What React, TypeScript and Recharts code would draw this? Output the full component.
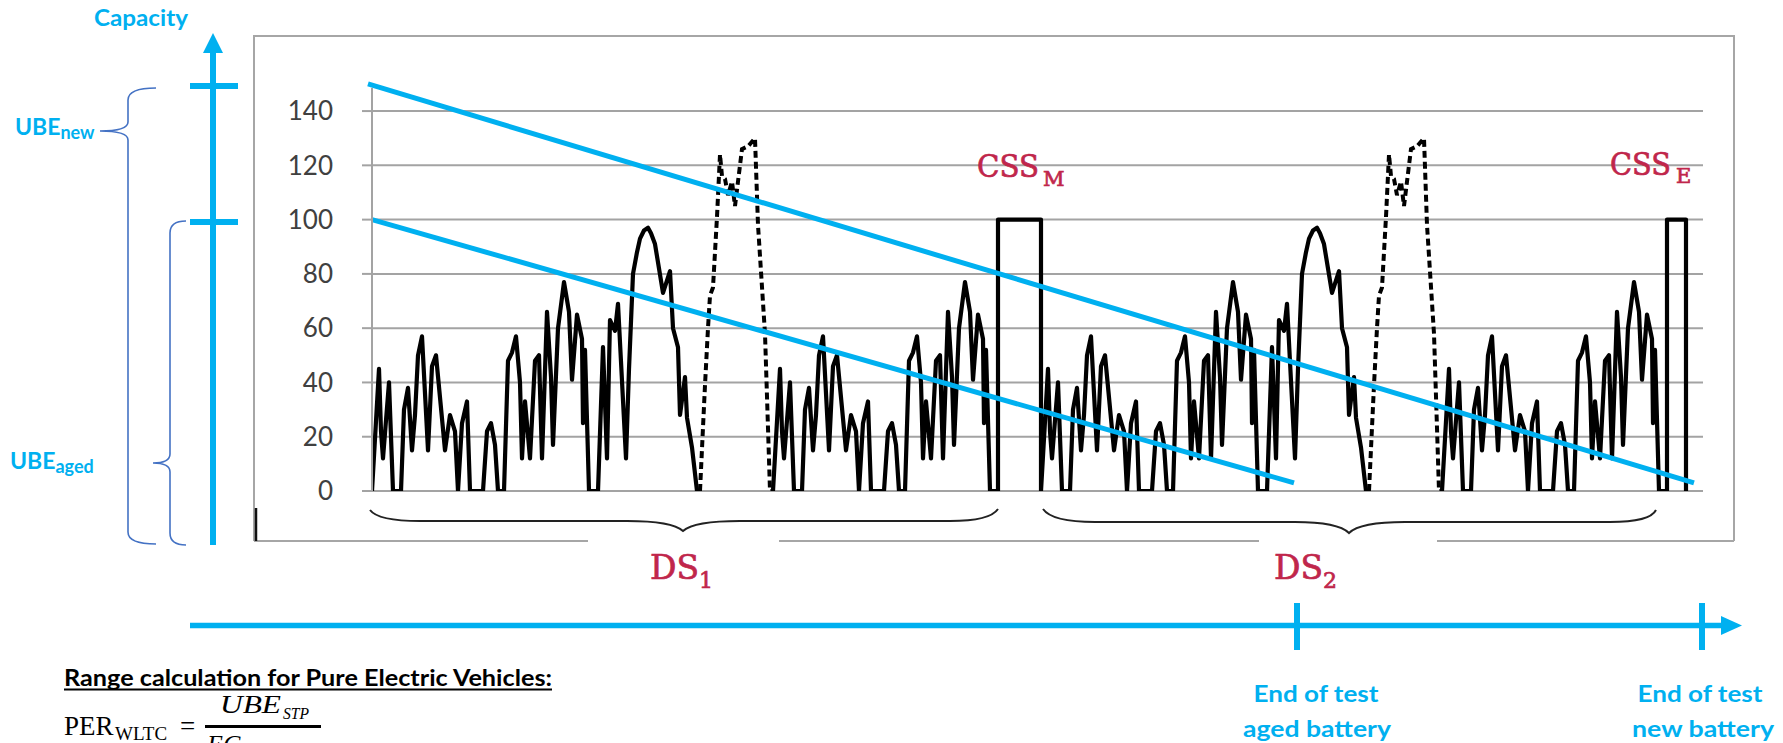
import { LineChart, Line, XAxis, YAxis, CartesianGrid, ReferenceLine } from "recharts";

const BLUE = "#00b0f0";
const RED = "#c0264b";
const GRID = "#a3a3a3";

// speed trace (t = time units, v = km/h)
const lowMidTime = [0, 35, 45, 55, 85, 105, 145, 160, 180, 200, 215, 230, 250, 280, 300, 320, 365, 390, 415, 430, 450, 475, 490, 555, 575, 595, 615, 630, 660, 680, 700, 720, 740, 750, 765, 790, 815, 835, 850, 875, 895, 905, 930, 960, 985, 1000, 1025, 1050, 1055, 1065, 1085];
const lowMidSpeed = [0, 45, 22, 12, 40, 0, 0, 30, 38, 15, 28, 50, 57, 15, 46, 50, 15, 28, 22, 0, 25, 33, 0, 0, 22, 25, 17, 0, 0, 48, 51, 57, 40, 12, 33, 12, 48, 50, 12, 66, 42, 17, 60, 77, 66, 41, 65, 56, 25, 52, 0];

const highTime = [0, 45, 70, 90, 105, 130, 145, 185, 200, 220, 240, 255, 275, 295, 310, 330, 370, 405, 420, 445, 455, 480, 490, 515, 540, 555];
const highSpeed = [0, 0, 53, 12, 63, 59, 69, 12, 45, 80, 88, 93, 96, 97, 95, 91, 73, 81, 60, 53, 28, 42, 27, 16, 0, 0];

const extraHighTime = [0, 25, 40, 50, 65, 85, 100, 110, 125, 140, 160, 175, 190, 210, 240, 275, 290, 325, 350, 365];
const extraHighSpeed = [0, 39, 60, 72, 75, 101, 124, 116, 115, 109, 114, 105, 114, 126, 127, 130, 98, 58, 0, 0];

// phase starts inside one drive sequence, and sequence starts
const phaseStart = [0, 1085, 1640, 2005];
const sequenceStart = [0, 3345];

// constant speed segments
const cssMTime = [3090, 3130, 3130, 3345, 3345];
const cssETime = [6435, 6475, 6475, 6570, 6570];
const cssSpeed = [0, 0, 100, 100, 0];

// usable battery energy lines
const newBatteryTime = [-20, 6610];
const newBatteryLevel = [150, 3];
const agedBatteryTime = [0, 4610];
const agedBatteryLevel = [100, 3];

const yTicks = [0, 20, 40, 60, 80, 100, 120, 140];

const shift = (ts: number[], vs: number[], off: number) =>
  ts.map((t, i) => ({ t: t + off, v: vs[i] }));

const [ds1, ds2] = sequenceStart;
const solidSegments = [
  [...shift(lowMidTime, lowMidSpeed, ds1 + phaseStart[0]), ...shift(highTime, highSpeed, ds1 + phaseStart[1])],
  [
    ...shift(lowMidTime, lowMidSpeed, ds1 + phaseStart[3]),
    ...shift(cssMTime, cssSpeed, 0),
    ...shift(lowMidTime, lowMidSpeed, ds2 + phaseStart[0]),
    ...shift(highTime, highSpeed, ds2 + phaseStart[1]),
  ],
  [...shift(lowMidTime, lowMidSpeed, ds2 + phaseStart[3]), ...shift(cssETime, cssSpeed, 0)],
];
const dashedSegments = sequenceStart.map((s) => shift(extraHighTime, extraHighSpeed, s + phaseStart[2]));

const sans = "Lato, 'Open Sans', sans-serif";
const slab = "'DejaVu Serif', serif";
const math = "'Liberation Serif', serif";

export default function App() {
  return (
    <div style={{ position: "absolute", left: 0, top: 0, width: 1783, height: 743, background: "#fff", overflow: "hidden" }}>
      <div style={{ position: "absolute", left: 0, top: 0 }}>
        <LineChart width={1783} height={743} margin={{ top: 88, right: 80, bottom: 252, left: 312 }}>
          <CartesianGrid vertical={false} horizontalValues={yTicks} syncWithTicks stroke={GRID} strokeWidth={2} />
          <XAxis type="number" dataKey="t" domain={[0, 6655]} allowDataOverflow hide />
          <YAxis
            type="number"
            width={60}
            domain={[0, 148.5]}
            ticks={yTicks}
            allowDataOverflow
            axisLine={{ stroke: GRID, strokeWidth: 2 }}
            tickLine={{ stroke: GRID, strokeWidth: 2 }}
            tickSize={10}
            tickMargin={29}
            tick={{ fontSize: 26, fill: "#404040", fontFamily: sans }}
          />
          {solidSegments.map((d, i) => (
            <Line key={`s${i}`} data={d} dataKey="v" type="linear" stroke="#000" strokeWidth={4.2}
              dot={false} activeDot={false} isAnimationActive={false} strokeLinejoin="round" />
          ))}
          {dashedSegments.map((d, i) => (
            <Line key={`d${i}`} data={d} dataKey="v" type="linear" stroke="#000" strokeWidth={4}
              strokeDasharray="7 4" dot={false} activeDot={false} isAnimationActive={false} />
          ))}
          <ReferenceLine
            segment={[{ x: newBatteryTime[0], y: newBatteryLevel[0] }, { x: newBatteryTime[1], y: newBatteryLevel[1] }]}
            stroke={BLUE} strokeWidth={5} ifOverflow="visible"
          />
          <ReferenceLine
            segment={[{ x: agedBatteryTime[0], y: agedBatteryLevel[0] }, { x: agedBatteryTime[1], y: agedBatteryLevel[1] }]}
            stroke={BLUE} strokeWidth={5} ifOverflow="visible"
          />
        </LineChart>
      </div>

      <svg width={1783} height={743} style={{ position: "absolute", left: 0, top: 0, pointerEvents: "none" }}>
        {/* chart frame */}
        <g stroke="#a6a6a6" strokeWidth={2} fill="none">
          <path d="M254,541 L254,36 L1734,36 L1734,541" />
          <line x1={254} y1={541} x2={588} y2={541} />
          <line x1={779} y1={541} x2={1259} y2={541} />
          <line x1={1437} y1={541} x2={1734} y2={541} />
        </g>
        <line x1={256} y1={508} x2={256} y2={541} stroke="#111" strokeWidth={2.5} />

        {/* drive sequence braces */}
        <g stroke="#222" strokeWidth={2} fill="none">
          <path d="M370,510 Q378,521 420,521 L627,521 Q672,521 683,531 Q694,521 740,521 L950,521 Q990,521 998,509" />
          <path d="M1043,509 Q1052,522 1095,522 L1295,522 Q1338,522 1349,533 Q1360,522 1405,522 L1610,522 Q1650,522 1656,510" />
        </g>
        <g fontFamily={slab} fill={RED} stroke={RED} strokeWidth={0.7}>
          <text x={650} y={579} fontSize={33}>
            DS<tspan fontSize={22} dy={9}>1</tspan>
          </text>
          <text x={1274} y={579} fontSize={33}>
            DS<tspan fontSize={22} dy={9}>2</tspan>
          </text>
          <text x={977} y={177} fontSize={31} textLength={62} lengthAdjust="spacingAndGlyphs">CSS</text>
          <text x={1043} y={186} fontSize={21}>M</text>
          <text x={1610} y={175} fontSize={31} textLength={61} lengthAdjust="spacingAndGlyphs">CSS</text>
          <text x={1676} y={183} fontSize={21}>E</text>
        </g>

        {/* capacity axis */}
        <text x={94} y={26} fontFamily={sans} fontWeight={700} fontSize={23} fill={BLUE} textLength={94} lengthAdjust="spacingAndGlyphs">Capacity</text>
        <line x1={213} y1={50} x2={213} y2={545} stroke={BLUE} strokeWidth={6} />
        <polygon points="203,53 213,33 223,53" fill={BLUE} />
        <line x1={190} y1={86} x2={238} y2={86} stroke={BLUE} strokeWidth={6} />
        <line x1={190} y1={222} x2={238} y2={222} stroke={BLUE} strokeWidth={6} />

        <g stroke="#4472c4" strokeWidth={1.6} fill="none">
          <path d="M156,88 Q128,88 128,100 L128,122 Q128,131 100,131 Q128,131 128,140 L128,532 Q128,544 156,544" />
          <path d="M186,221 Q170,221 170,233 L170,454 Q170,463 153,463 Q170,463 170,472 L170,533 Q170,545 186,545" />
        </g>
        <text x={15} y={135} fontFamily={sans} fontWeight={700} fontSize={23} fill={BLUE}>
          UBE<tspan fontSize={18} dy={4}>new</tspan>
        </text>
        <text x={10} y={469} fontFamily={sans} fontWeight={700} fontSize={23} fill={BLUE}>
          UBE<tspan fontSize={18} dy={4}>aged</tspan>
        </text>

        {/* time axis */}
        <line x1={190} y1={625.5} x2={1724} y2={625.5} stroke={BLUE} strokeWidth={5.5} />
        <polygon points="1721,616 1742,625.5 1721,635" fill={BLUE} />
        <line x1={1297} y1={603} x2={1297} y2={650} stroke={BLUE} strokeWidth={6} />
        <line x1={1702} y1={603} x2={1702} y2={650} stroke={BLUE} strokeWidth={6} />
        <g fontFamily={sans} fontWeight={700} fontSize={23} fill={BLUE} textAnchor="middle">
          <text x={1316} y={702} textLength={125} lengthAdjust="spacingAndGlyphs">End of test</text>
          <text x={1317} y={737} textLength={148} lengthAdjust="spacingAndGlyphs">aged battery</text>
          <text x={1700} y={702} textLength={125} lengthAdjust="spacingAndGlyphs">End of test</text>
          <text x={1703} y={737} textLength={142} lengthAdjust="spacingAndGlyphs">new battery</text>
        </g>

        {/* range formula */}
        <text x={64} y={686} fontFamily={sans} fontWeight={700} fontSize={22} fill="#000" textLength={488} lengthAdjust="spacingAndGlyphs">
          Range calculation for Pure Electric Vehicles:
        </text>
        <line x1={64} y1={689.5} x2={552} y2={689.5} stroke="#000" strokeWidth={1.8} />
        <text x={64} y={735} fontFamily={math} fontSize={27} fill="#000">PER</text>
        <text x={115} y={740} fontFamily={math} fontSize={19} fill="#000">WLTC</text>
        <text x={180} y={735} fontFamily={math} fontSize={27} fill="#000">=</text>
        <text x={220} y={713} fontFamily={math} fontStyle="italic" fontSize={26} fill="#000" textLength={61} lengthAdjust="spacingAndGlyphs">UBE</text>
        <text x={283} y={719} fontFamily={math} fontStyle="italic" fontSize={17} fill="#000" textLength={26} lengthAdjust="spacingAndGlyphs">STP</text>
        <line x1={205} y1={726.5} x2={321} y2={726.5} stroke="#000" strokeWidth={3} />
        <text x={207} y={753} fontFamily={math} fontStyle="italic" fontSize={26} fill="#000">EC</text>
      </svg>
    </div>
  );
}
